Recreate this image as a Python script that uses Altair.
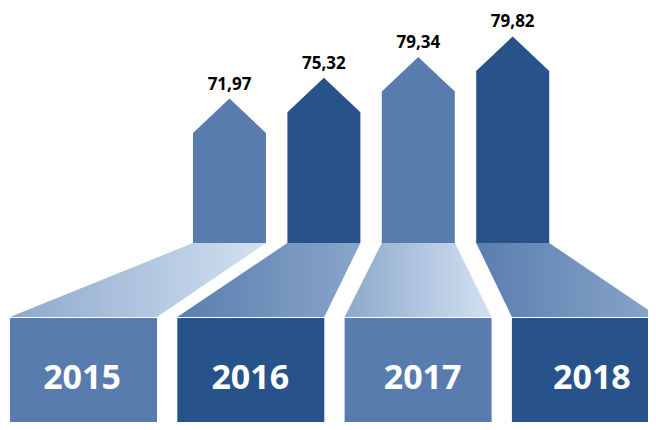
import altair as alt
import pandas as pd

# ---- data ----
years = ["2015", "2016", "2017", "2018"]
values = [71.97, 75.32, 79.34, 79.82]
value_labels = ["71,97", "75,32", "79,34", "79,82"]

# ---- styles ----
LIGHT = "#587CAD"
DARK = "#28528A"
box_colors = [LIGHT, DARK, LIGHT, DARK]
grad_light = ["#8DA8CB", "#D2E1F1"]
grad_dark = ["#5A7EB0", "#89A5C9"]
grad_stops = [grad_light, grad_dark, grad_light, grad_dark]

# ---- layout (page pixel units) ----
ARROW_X0, ARROW_STEP, ARROW_W = 193, 94.4, 73
ARROW_BASE, SHOULDER0, LEVEL_STEP, TIP_RISE = 243, 133, 20.7, 34.5
BOX_X0, BOX_STEP, BOX_W = 10, 167.3, 147
BOX_TOP, BOX_BOTTOM, TRAP_BOTTOM = 318, 445, 317
YEAR_Y = 379
YEAR_DX = [-1.5, -0.5, 4.5, 6.5]   # label offsets inside the boxes

rank = {v: r for r, v in enumerate(sorted(values))}

arrow_rows, label_rows, box_rows = [], [], []
trap_frames = []
for i, (yr, v, lab) in enumerate(zip(years, values, value_labels)):
    xl = ARROW_X0 + i * ARROW_STEP
    xr = xl + ARROW_W
    xc = (xl + xr) / 2
    shoulder = SHOULDER0 - rank[v] * LEVEL_STEP
    tip = shoulder - TIP_RISE
    for x, y in [(xl, shoulder), (xc, tip), (xr, shoulder)]:
        arrow_rows.append({"year": yr, "x": x, "top": y, "base": ARROW_BASE})
    label_rows.append({"year": yr, "x": xc, "y": tip, "label": lab, "value": v})
    bl = BOX_X0 + i * BOX_STEP
    br = bl + BOX_W
    box_rows.append({"year": yr, "x": bl, "x2": br, "y": BOX_TOP, "y2": BOX_BOTTOM,
                     "xc": (bl + br) / 2 + YEAR_DX[i], "yc": YEAR_Y})
    trap_frames.append(pd.DataFrame([
        {"year": yr, "y": ARROW_BASE, "xa": xl, "xb": xr},
        {"year": yr, "y": TRAP_BOTTOM, "xa": bl, "xb": br},
    ]))

arrows = pd.DataFrame(arrow_rows)
labels = pd.DataFrame(label_rows)
boxes = pd.DataFrame(box_rows)

W, H = 640, 414
xs = alt.Scale(domain=[8, 8 + W], nice=False, zero=False)
ys = alt.Scale(domain=[8, 8 + H], nice=False, zero=False, reverse=True)
cs = alt.Scale(domain=years, range=box_colors)

arrow_layer = alt.Chart(arrows).mark_area(clip=True).encode(
    x=alt.X("x:Q", scale=xs, axis=None),
    y=alt.Y("top:Q", scale=ys, axis=None),
    y2="base:Q",
    detail="year:N",
    color=alt.Color("year:N", scale=cs, legend=None),
)

trap_layers = []
for i, tf in enumerate(trap_frames):
    g = alt.Gradient(
        gradient="linear",
        stops=[alt.GradientStop(color=grad_stops[i][0], offset=0),
               alt.GradientStop(color=grad_stops[i][1], offset=1)],
        x1=0, x2=1, y1=0, y2=0,
    )
    trap_layers.append(
        alt.Chart(tf).mark_area(orient="horizontal", color=g, clip=True).encode(
            y=alt.Y("y:Q", scale=ys, axis=None),
            x=alt.X("xa:Q", scale=xs, axis=None),
            x2="xb:Q",
        )
    )

box_layer = alt.Chart(boxes).mark_rect(clip=True).encode(
    x=alt.X("x:Q", scale=xs, axis=None),
    x2="x2:Q",
    y=alt.Y("y:Q", scale=ys, axis=None),
    y2="y2:Q",
    color=alt.Color("year:N", scale=cs, legend=None),
)

year_text = alt.Chart(boxes).mark_text(
    font="Open Sans", fontWeight="bold", fontSize=34, color="white",
    align="center", baseline="middle",
).encode(
    x=alt.X("xc:Q", scale=xs, axis=None),
    y=alt.Y("yc:Q", scale=ys, axis=None),
    text="year:N",
)

value_text = alt.Chart(labels).mark_text(
    font="Open Sans", fontWeight="bold", fontSize=17, color="black",
    align="center", baseline="bottom", dy=-5,
).encode(
    x=alt.X("x:Q", scale=xs, axis=None),
    y=alt.Y("y:Q", scale=ys, axis=None),
    text="label:N",
)

chart = alt.layer(
    *trap_layers, arrow_layer, box_layer, year_text, value_text
).properties(
    width=W, height=H, padding=0,
    autosize=alt.AutoSizeParams(type="none"),
    background="white",
).configure_view(stroke=None)

chart.save("out.html", embed_options={"renderer": "svg", "actions": False})
